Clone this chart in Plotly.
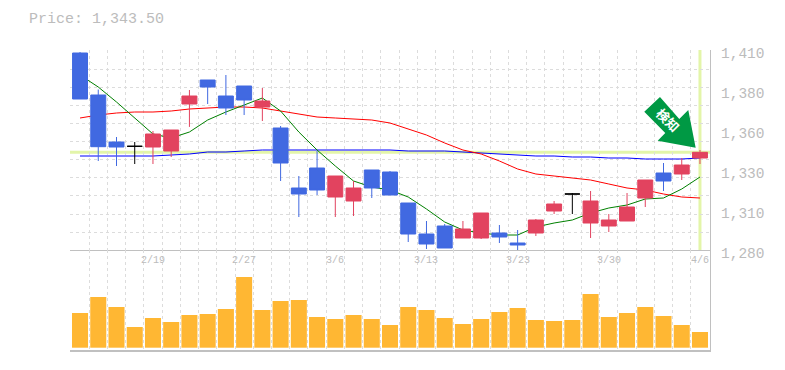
import plotly.graph_objects as go

W, H = 785, 370

# ---- data ----
opens = [1408.05, 1380.75, 1350.2, 1347.4, 1346.95, 1344.35, 1374.9, 1390.5, 1380.1, 1386.6, 1372.95,
         1359.3, 1320.3, 1333.3, 1314.45, 1311.85, 1332.0, 1330.7, 1310.55, 1290.4, 1295.6, 1287.8,
         1287.8, 1291.05, 1284.55, 1291.05, 1305.35, 1316.4, 1297.55, 1295.6, 1298.85, 1313.8,
         1330.05, 1329.4, 1339.8]
highs = [1408.7, 1384.3, 1353.45, 1350.2, 1357.35, 1358.0, 1384.0, 1390.5, 1393.75, 1386.6, 1385.3,
         1360.6, 1328.1, 1344.35, 1328.1, 1324.85, 1332.0, 1331.35, 1310.55, 1298.85, 1296.9, 1298.85,
         1304.05, 1296.25, 1293.0, 1300.15, 1311.85, 1317.05, 1318.35, 1303.4, 1317.05, 1325.5,
         1336.55, 1339.8, 1345.0]
lows = [1378.15, 1337.85, 1334.6, 1335.9, 1335.9, 1340.45, 1360.0, 1374.9, 1367.75, 1367.75, 1363.85,
        1324.85, 1301.45, 1315.75, 1301.45, 1302.1, 1313.8, 1315.75, 1285.2, 1280.65, 1281.3, 1287.8,
        1287.15, 1284.55, 1280.0, 1289.1, 1303.4, 1303.4, 1287.8, 1291.7, 1298.85, 1307.95,
        1318.35, 1325.5, 1335.9]
closes = [1378.15, 1347.15, 1346.95, 1347.4, 1355.4, 1358.0, 1380.1, 1385.95, 1372.3, 1377.5, 1376.85,
          1336.55, 1316.4, 1319.0, 1328.1, 1320.3, 1320.3, 1315.75, 1290.4, 1283.9, 1281.3, 1293.65,
          1304.05, 1288.45, 1283.25, 1299.5, 1309.9, 1316.4, 1311.85, 1299.5, 1307.95, 1325.5,
          1324.85, 1335.25, 1343.5]
ma_short = [1393.75, 1385.95, 1376.2, 1365.8, 1355.4, 1352.8, 1356.7, 1364.5, 1369.7, 1374.25, 1378.8,
            1370.35, 1356.7, 1345.0, 1334.6, 1324.85, 1320.95, 1319.0, 1314.45, 1306.65, 1298.2, 1293.0,
            1291.05, 1289.75, 1289.75, 1294.95, 1297.55, 1299.5, 1304.05, 1307.3, 1309.25, 1313.15,
            1313.8, 1319.65, 1327.45]
ma_mid = [1365.8, 1367.75, 1369.05, 1369.7, 1369.7, 1370.35, 1371.65, 1372.3, 1372.95, 1372.95, 1372.3,
          1370.35, 1368.4, 1366.45, 1365.8, 1365.15, 1364.5, 1362.55, 1358.65, 1354.75, 1349.55, 1345.0,
          1342.4, 1337.85, 1332.65, 1329.4, 1328.1, 1326.8, 1325.5, 1322.9, 1320.3, 1319.0,
          1316.4, 1314.45, 1313.8]
ma_long = [1341.1, 1341.1, 1341.1, 1341.1, 1341.1, 1341.75, 1342.4, 1343.7, 1343.7, 1344.35, 1345.0,
           1345.0, 1345.0, 1345.0, 1345.0, 1345.0, 1345.0, 1345.0, 1344.35, 1344.35, 1344.35, 1343.7,
           1343.05, 1342.4, 1341.75, 1341.1, 1341.1, 1340.45, 1340.45, 1339.8, 1339.8, 1339.15,
           1339.15, 1339.15, 1339.8]
volumes = [34.7, 50.7, 40.7, 20.7, 29.7, 25.7, 32.7, 33.7, 38.7, 70.7, 37.7, 46.7, 47.7, 30.7, 28.7, 32.7,
           28.7, 22.7, 40.7, 37.7, 29.7, 23.7, 28.7, 35.7, 39.7, 27.7, 26.7, 27.7, 53.7, 30.7, 34.7,
           40.7, 31.7, 22.7, 15.7]
price_tick_values = [1410, 1384, 1358, 1332, 1306, 1280]
price_tick_labels = ["1,410", "1,380", "1,360", "1,330", "1,310", "1,280"]
price_grid_values = [1409.35, 1397.6, 1385.8, 1374.0, 1362.3, 1350.5, 1338.7, 1327.0, 1315.2, 1303.4, 1291.6, 1280.0]
date_tick_index = [4, 9, 14, 19, 24, 29, 34]
date_tick_labels = ["2/19", "2/27", "3/6", "3/13", "3/23", "3/30", "4/6"]
current_price = 1343.5
price_label = "Price: 1,343.50"
signal_label = "検知"

# ---- styles ----
RED, BLUE = "#E2435F", "#4169E1"
GRID = "#dcdcdc"
AXIS = "#c0c0c0"
TEXT = "#bcbcbc"
HILITE = "#E3F5A9"
MONO = "Liberation Mono"

n = len(closes)
xs = list(range(n))
x_range = [-0.55, n - 1 + 0.55]
grid_x = [i - 0.5 for i in range(n + 1)]
is_doji = [o == c for o, c in zip(opens, closes)]


def sub(vals, keep):
    return [v for v, k in zip(vals, keep) if k]


fig = go.Figure()
fig.add_trace(go.Bar(x=xs, y=volumes, width=0.88, marker=dict(color="#FFB733", line_width=0),
                     xaxis="x2", yaxis="y2", name="Volume"))
for ys, col, name in [(ma_long, "#0000FF", "Long"), (ma_mid, "#FF0000", "Mid"), (ma_short, "#008000", "Short")]:
    fig.add_trace(go.Scatter(x=xs, y=ys, mode="lines", line=dict(color=col, width=1), name=name,
                             xaxis="x", yaxis="y"))
fig.add_trace(go.Candlestick(
    x=sub(xs, [not d for d in is_doji]),
    open=sub(opens, [not d for d in is_doji]), high=sub(highs, [not d for d in is_doji]),
    low=sub(lows, [not d for d in is_doji]), close=sub(closes, [not d for d in is_doji]),
    increasing=dict(line=dict(color=RED, width=1), fillcolor=RED),
    decreasing=dict(line=dict(color=BLUE, width=1), fillcolor=BLUE),
    whiskerwidth=0, xaxis="x", yaxis="y3", name="Price"))
fig.add_trace(go.Candlestick(
    x=sub(xs, is_doji), open=sub(opens, is_doji), high=sub(highs, is_doji),
    low=sub(lows, is_doji), close=sub(closes, is_doji),
    increasing=dict(line=dict(color="#000000", width=1), fillcolor="#000000"),
    decreasing=dict(line=dict(color="#000000", width=1), fillcolor="#000000"),
    whiskerwidth=0, xaxis="x", yaxis="y3", name="Doji"))

dom_x = [70 / W, 710 / W]
dom_price = [1 - 250 / H, 1 - 50 / H]
dom_vol = [1 - 350 / H, 1 - 250 / H]
dash = "3px,3px"
price_range = [1280, 1410]

date_annotations = [
    dict(text=t, xref="x2", yref="paper", x=i, y=dom_vol[1], yshift=-10, yanchor="middle", xanchor="center",
         showarrow=False, font=dict(family=MONO, size=10, color=TEXT))
    for i, t in zip(date_tick_index, date_tick_labels)
]

fig.update_layout(
    width=W, height=H, autosize=False, margin=dict(l=0, r=0, t=0, b=0),
    paper_bgcolor="white", plot_bgcolor="white", showlegend=False,
    boxmode="overlay", boxgap=0.18, boxgroupgap=0, bargap=0.12,
    xaxis=dict(domain=dom_x, range=x_range, tickvals=grid_x, showticklabels=False, ticks="", showgrid=True,
               gridcolor=GRID, griddash=dash, gridwidth=1, zeroline=False, showline=True, linecolor=AXIS,
               linewidth=1, anchor="y", rangeslider=dict(visible=False), automargin=False),
    yaxis=dict(domain=dom_price, range=price_range, tickvals=price_grid_values, showticklabels=False, ticks="",
               showgrid=True, gridcolor=GRID, griddash=dash, gridwidth=1, zeroline=False, showline=True,
               linecolor=AXIS, linewidth=1, side="right", anchor="x", automargin=False),
    yaxis3=dict(overlaying="y", range=price_range, side="right", anchor="x", tickvals=price_tick_values,
                ticktext=price_tick_labels, showgrid=False, zeroline=False, ticks="", showline=False,
                ticklabelshift=3, ticklabelstandoff=10, tickfont=dict(family=MONO, size=14.5, color=TEXT),
                automargin=False),
    xaxis2=dict(domain=dom_x, range=x_range, tickvals=grid_x, showticklabels=False, ticks="", showgrid=True,
                gridcolor=GRID, griddash=dash, gridwidth=1, zeroline=False, showline=True, linecolor=AXIS,
                linewidth=2, anchor="y2", automargin=False),
    yaxis2=dict(domain=dom_vol, range=[-2.3, 97.7], showticklabels=False, ticks="", showgrid=False, zeroline=False,
                showline=True, linecolor=AXIS, linewidth=1, side="right", anchor="x2", automargin=False),
    shapes=[
        dict(type="line", xref="x", yref="y", x0=x_range[0], x1=x_range[1], y0=current_price, y1=current_price,
             line=dict(color=HILITE, width=3), layer="below"),
        dict(type="line", xref="x", yref="y", x0=xs[-1], x1=xs[-1], y0=price_range[0], y1=price_range[1],
             line=dict(color=HILITE, width=3), layer="below"),
        dict(type="path", xref="x", yref="y", xsizemode="pixel", ysizemode="pixel", xanchor=xs[-1],
             yanchor=current_price, fillcolor="#009944", line_width=0, layer="above",
             path="M -40 55.3 L -55.7 40.6 L -34.7 19.3 L -42.3 11.6 L -4.3 4.6 L -11.7 42.3 L -20.7 33.3 Z"),
    ],
    annotations=[
        dict(text=price_label, xref="paper", yref="paper", x=27 / W, y=1 - 19 / H, xanchor="left", yanchor="middle",
             showarrow=False, font=dict(family=MONO, size=15, color=TEXT)),
        dict(text=f"<b>{signal_label}</b>", xref="x", yref="y", x=xs[-1], y=current_price, xshift=-32.3, yshift=32.5,
             showarrow=False, textangle=45, font=dict(family="Noto Sans CJK JP", size=13, color="white")),
    ] + date_annotations,
)

fig.write_html("out.html", config={"displayModeBar": False}, post_script="document.body.style.margin='0';")
